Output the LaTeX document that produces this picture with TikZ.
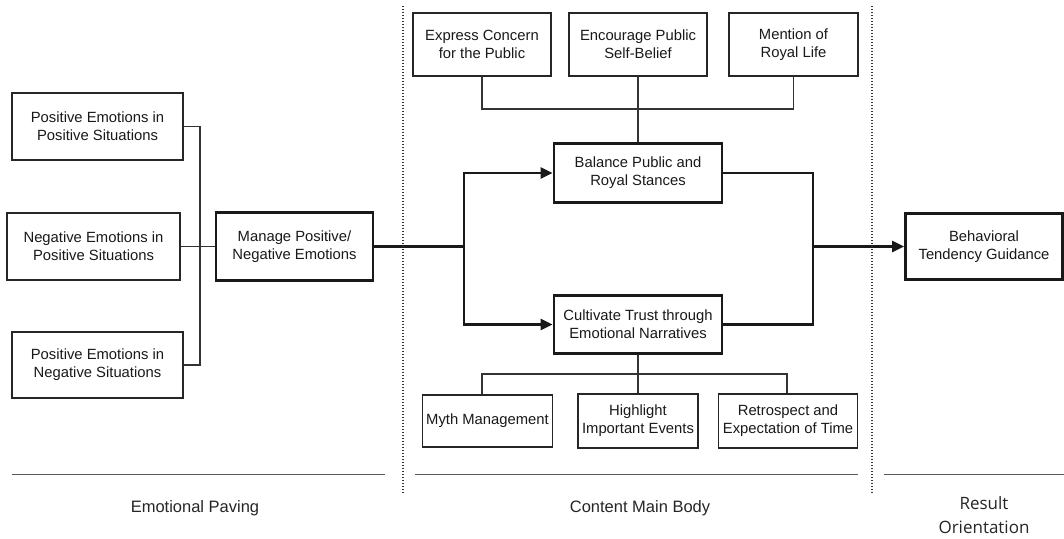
\documentclass[tikz,border=0pt]{standalone}
\usepackage{fontspec}
\setmainfont{Liberation Sans}
\newfontfamily\labfont{Open Sans}
\usetikzlibrary{arrows.meta}
\begin{document}
\begin{tikzpicture}[x=1pt,y=-1pt,
 box/.style={draw=black!85, line width=1.4pt, align=center, inner sep=0pt, text=black!90,
   font=\fontsize{14.8}{18}\selectfont},
 tbox/.style={box, draw=black!90, line width=2.8pt},
 thin/.style={draw=black!80, line width=1.4pt},
 thick/.style={draw=black!90, line width=2.8pt},
 arr/.style={thick, -{Triangle[length=12pt,width=11pt]}},
 sep/.style={draw=black!80, line width=1.3pt, dash pattern=on 1.3pt off 1.7pt},
 rulel/.style={draw=black!65, line width=1pt},
 lab/.style={font=\fontsize{16.5}{24}\selectfont, align=center, text=black!85},
 labo/.style={font=\labfont\fontsize{17}{24}\selectfont, align=center, text=black!85}]
\useasboundingbox (0,0) rectangle (1064,538);
\fill[white] (0,0) rectangle (1064,538);

% left column
\node[box, minimum width=171pt, minimum height=67pt] (peps) at (97.5,126.5) {Positive Emotions in\\Positive Situations};
\node[box, minimum width=173pt, minimum height=67pt] (neps) at (93.5,246.5) {Negative Emotions in\\Positive Situations};
\node[box, minimum width=171pt, minimum height=66pt] (pens) at (97.5,365) {Positive Emotions in\\Negative Situations};
\node[tbox, minimum width=157pt, minimum height=68pt] (manage) at (294.5,246.5) {Manage Positive/\\Negative Emotions};

% middle column
\node[box, minimum width=138pt, minimum height=63pt] (express) at (482,44.5) {Express Concern\\for the Public};
\node[box, minimum width=138pt, minimum height=63pt] (encourage) at (638,44.5) {Encourage Public\\Self-Belief};
\node[box, minimum width=129pt, minimum height=63pt] (mention) at (793.5,44.5) {Mention of\\Royal Life};
\node[tbox, minimum width=168pt, minimum height=59pt] (balance) at (638,173) {Balance Public and\\Royal Stances};
\node[tbox, minimum width=168pt, minimum height=58pt] (cult) at (638,324.5) {Cultivate Trust through\\Emotional Narratives};
\node[box, minimum width=130pt, minimum height=52pt] (myth) at (487.5,421) {Myth Management};
\node[box, minimum width=120pt, minimum height=54pt] (high) at (638,421) {Highlight\\Important Events};
\node[box, minimum width=139pt, minimum height=54pt] (retro) at (788,421) {Retrospect and\\Expectation of Time};

% right column
\node[tbox, minimum width=157pt, minimum height=66pt] (beh) at (984,246.5) {Behavioral\\Tendency Guidance};

% left connectors
\coordinate (lj) at (200,246.5);
\draw[thin] (peps.east) -| (lj) |- (pens.east);
\draw[thin] (neps.east) -- (manage.west);

% split
\coordinate (sj) at (464,246.5);
\draw[thick] (manage.east) -- (sj);
\draw[arr] (sj) |- (balance.west);
\draw[arr] (sj) |- (cult.west);

% merge
\coordinate (rj) at (813,246.5);
\draw[thick] (balance.east) -| (rj) |- (cult.east);
\draw[arr] (rj) -- (beh.west);

% top tree
\coordinate (tl) at (482,109);
\draw[thin] (express.south) -- (tl) -| (mention.south);
\draw[thin] (encourage.south) -- (balance.north);

% bottom tree
\coordinate (bl) at (482,374);
\coordinate (br) at (787,374);
\draw[thin] (cult.south) -- (high.north);
\draw[thin] (bl |- myth.north) -- (bl) -- (br) -- (br |- retro.north);

% separators
\draw[sep] (403,6) -- (403,494);
\draw[sep] (872,6) -- (872,494);
\draw[rulel] (12,474) -- (385,474);
\draw[rulel] (415,474) -- (858,474);
\draw[rulel] (884,474) -- (1064,474);

% section labels
\node[lab] (l1) at (195,508) {Emotional Paving};
\node[lab] (l2) at (640,508) {Content Main Body};
\node[labo] (l3) at (984,515) {Result\\Orientation};
\end{tikzpicture}
\end{document}
